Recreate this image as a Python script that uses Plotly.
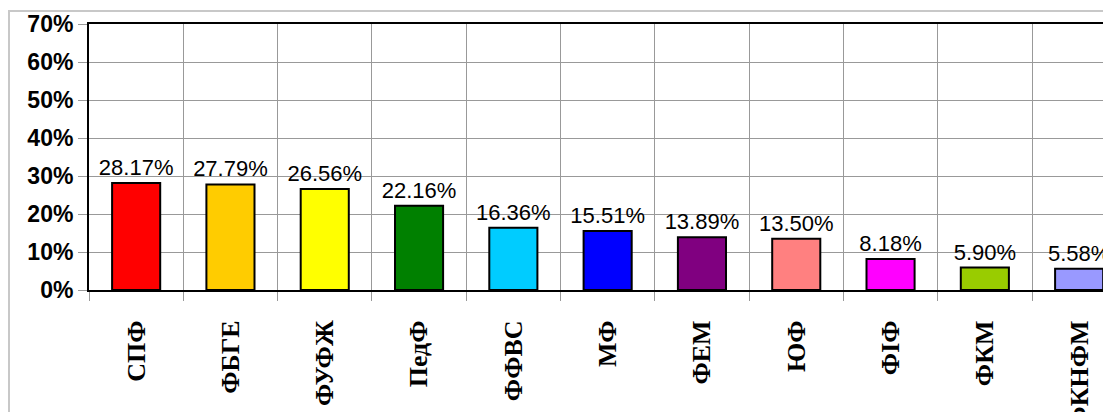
import plotly.graph_objects as go

categories = ["СПФ", "ФБГЕ", "ФУФЖ", "ПедФ", "ФФВС", "МФ", "ФЕМ", "ЮФ", "ФІФ", "ФКМ", "ФКНФМ"]
values = [0.2817, 0.2779, 0.2656, 0.2216, 0.1636, 0.1551, 0.1389, 0.1350, 0.0818, 0.0590, 0.0558]
colors = ["#FF0000", "#FFCC00", "#FFFF00", "#008000", "#00CCFF", "#0000FF",
          "#800080", "#FF8080", "#FF00FF", "#99CC00", "#9999FF"]
y_ticks = [0, 0.1, 0.2, 0.3, 0.4, 0.5, 0.6, 0.7]

# page body adds an 8px offset
W, H = 1103, 404
ML, MT, MB, MR = 81, 16, 122, 0
plot_w = W - ML - MR
plot_h = H - MT - MB
cat_px = 94.3

fig = go.Figure(go.Bar(
    x=categories, y=values,
    marker=dict(color=colors, line=dict(color="black", width=2)),
    width=0.51,
    texttemplate="%{y:.2%}", textposition="outside", cliponaxis=False,
    constraintext="none",
    textfont=dict(family="Liberation Sans", size=22, color="black"),
))

fig.update_layout(
    width=W, height=H,
    margin=dict(l=ML, r=MR, t=MT, b=MB, autoexpand=False),
    plot_bgcolor="white", paper_bgcolor="white",
    showlegend=False,
    shapes=[dict(type="rect", xref="paper", yref="paper",
                 x0=(1 - ML) / plot_w, x1=1.2,
                 y0=-1.0, y1=1 + (MT - 3) / plot_h,
                 line=dict(color="#c8c8c8", width=2), layer="below")],
)
fig.update_xaxes(
    type="category",
    range=[-0.5, -0.5 + plot_w / cat_px],
    tickson="boundaries",
    showgrid=True, gridcolor="#999999", gridwidth=1,
    ticks="outside", ticklen=9, tickcolor="#999999", tickwidth=1,
    showline=True, linecolor="black", linewidth=2, mirror=True,
    tickangle=-90, ticklabelstandoff=18,
    tickfont=dict(family="Liberation Serif", size=26, color="black", weight="bold"),
    automargin=False,
)
fig.update_yaxes(
    range=[0, 0.7], tickvals=y_ticks, tickformat=".0%",
    showgrid=True, gridcolor="#999999", gridwidth=1,
    ticks="outside", ticklen=9, tickcolor="#999999", tickwidth=1,
    showline=True, linecolor="black", linewidth=2, mirror=False,
    zeroline=False,
    tickfont=dict(family="Liberation Sans", size=23, color="black", weight="bold"),
    automargin=False,
)

fig.write_html("out.html")
